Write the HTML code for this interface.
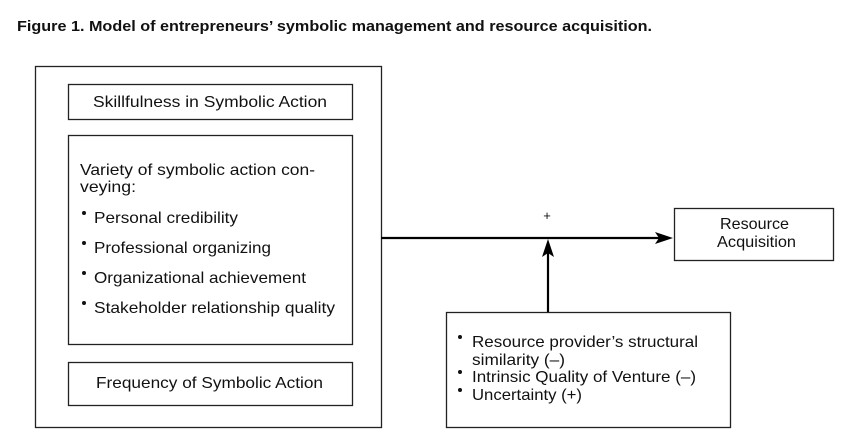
<!DOCTYPE html>
<html><head><meta charset="utf-8"><style>
html,body{margin:0;padding:0;background:#fff;}
svg{display:block;}
text{font-family:"Liberation Sans",sans-serif;fill:#111;}
</style></head><body>
<svg width="862" height="448" viewBox="0 0 862 448">
<text x="17" y="31" font-size="15" font-weight="bold" textLength="635" lengthAdjust="spacingAndGlyphs">Figure 1. Model of entrepreneurs’ symbolic management and resource acquisition.</text>
<g fill="none" stroke="#222" stroke-width="1.3">
<rect x="35.5" y="66.5" width="346" height="361"/>
<rect x="68.5" y="84.5" width="284" height="35"/>
<rect x="68.5" y="135.5" width="284" height="209"/>
<rect x="68.5" y="362.5" width="284" height="43"/>
<rect x="674.5" y="208.5" width="159" height="52"/>
<rect x="446.5" y="312.5" width="284" height="115"/>
</g>
<line x1="381" y1="238" x2="660" y2="238" stroke="#000" stroke-width="2.2"/>
<polygon points="673,238 655,232 659,238 655,244" fill="#000"/>
<line x1="548" y1="312" x2="548" y2="252" stroke="#000" stroke-width="2.2"/>
<polygon points="548,239 542,257 548,253 554,257" fill="#000"/>
<text x="547" y="220" font-size="13" text-anchor="middle">+</text>
<g fill="#111">
<circle cx="84" cy="213" r="2"/><circle cx="84" cy="243" r="2"/><circle cx="84" cy="273" r="2"/><circle cx="84" cy="303" r="2"/>
<circle cx="460" cy="337" r="2"/><circle cx="460" cy="372" r="2"/><circle cx="460" cy="390" r="2"/>
</g>
<g font-size="16">
<text x="93" y="107" textLength="234" lengthAdjust="spacingAndGlyphs">Skillfulness in Symbolic Action</text>
<text x="80" y="175" textLength="235" lengthAdjust="spacingAndGlyphs">Variety of symbolic action con-</text>
<text x="80" y="192" textLength="56" lengthAdjust="spacingAndGlyphs">veying:</text>
<text x="94" y="223" textLength="144" lengthAdjust="spacingAndGlyphs">Personal credibility</text>
<text x="94" y="253" textLength="177" lengthAdjust="spacingAndGlyphs">Professional organizing</text>
<text x="94" y="283" textLength="212" lengthAdjust="spacingAndGlyphs">Organizational achievement</text>
<text x="94" y="313" textLength="241" lengthAdjust="spacingAndGlyphs">Stakeholder relationship quality</text>
<text x="96" y="388" textLength="227" lengthAdjust="spacingAndGlyphs">Frequency of Symbolic Action</text>
<text x="720" y="229" textLength="69" lengthAdjust="spacingAndGlyphs">Resource</text>
<text x="717" y="247" textLength="79" lengthAdjust="spacingAndGlyphs">Acquisition</text>
<text x="472" y="347" textLength="226" lengthAdjust="spacingAndGlyphs">Resource provider’s structural</text>
<text x="472" y="365" textLength="93" lengthAdjust="spacingAndGlyphs">similarity (–)</text>
<text x="472" y="382" textLength="224" lengthAdjust="spacingAndGlyphs">Intrinsic Quality of Venture (–)</text>
<text x="472" y="400" textLength="110" lengthAdjust="spacingAndGlyphs">Uncertainty (+)</text>
</g>
</svg>
</body></html>
